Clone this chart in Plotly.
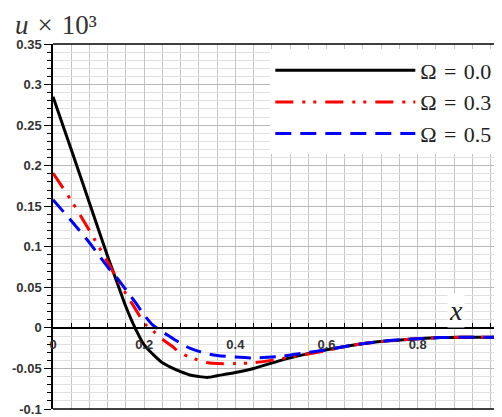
import plotly.graph_objects as go

# sampled positions along x
x_vals = [0, 0.04, 0.08, 0.12, 0.14, 0.16, 0.18, 0.20, 0.22, 0.24, 0.26, 0.28,
          0.30, 0.32, 0.34, 0.36, 0.40, 0.44, 0.50, 0.55, 0.60, 0.65, 0.70,
          0.75, 0.80, 0.85, 0.90, 0.95, 1.00]

# u x 10^3 for each Omega
u_omega_00 = [0.285, 0.220, 0.154, 0.088, 0.057, 0.026, 0.000, -0.021, -0.033,
              -0.043, -0.049, -0.054, -0.058, -0.060, -0.061, -0.059, -0.055,
              -0.050, -0.040, -0.033, -0.027, -0.022, -0.018, -0.0155, -0.0135,
              -0.012, -0.0115, -0.0115, -0.012]
u_omega_03 = [0.191, 0.157, 0.120, 0.081, 0.061, 0.042, 0.024, 0.006, -0.004,
              -0.014, -0.022, -0.031, -0.036, -0.040, -0.043, -0.044, -0.044,
              -0.043, -0.038, -0.033, -0.028, -0.022, -0.018, -0.0155, -0.0135,
              -0.012, -0.0115, -0.0115, -0.012]
u_omega_05 = [0.158, 0.132, 0.105, 0.075, 0.062, 0.047, 0.032, 0.016, 0.003,
              -0.005, -0.012, -0.019, -0.025, -0.029, -0.032, -0.034, -0.036,
              -0.037, -0.035, -0.031, -0.027, -0.022, -0.018, -0.015, -0.0135,
              -0.012, -0.0115, -0.0115, -0.012]

series_names = ["Ω\u2004=\u20040.0", "Ω\u2004=\u20040.3", "Ω\u2004=\u20040.5"]

y_ticks = [-0.1, -0.05, 0, 0.05, 0.1, 0.15, 0.2, 0.25, 0.3, 0.35]
y_tick_labels = ["-0.1", "-0.05", "0", "0.05", "0.1", "0.15", "0.2", "0.25", "0.3", "0.35"]
x_ticks = [0, 0.2, 0.4, 0.6, 0.8]
x_tick_labels = ["0", "0.2", "0.4", "0.6", "0.8"]

styles = [
    dict(color="black", width=3, dash="solid"),
    dict(color="#ff0000", width=3, dash="18px,9px,3px,8px,3px,9px"),
    dict(color="#0000ff", width=3, dash="16px,9px"),
]

fig = go.Figure()
for name, ys, st in zip(series_names, [u_omega_00, u_omega_03, u_omega_05], styles):
    fig.add_trace(go.Scatter(x=x_vals, y=ys, mode="lines", name=name,
                             line=dict(shape="spline", smoothing=0.8, **st)))

y_min, y_max = -0.1, 0.35
tick_font = dict(family="Liberation Sans", size=13, color="#333", weight="bold")

# page body adds an 8px offset, so the figure is 8px smaller and shifted
fig.update_layout(
    width=494, height=409,
    margin=dict(l=45, r=0, t=36, b=8),
    paper_bgcolor="white", plot_bgcolor="white",
    showlegend=True,
    legend=dict(x=0.484, y=0.985, xanchor="left", yanchor="top",
                bgcolor="white", borderwidth=0, itemwidth=140,
                font=dict(family="Liberation Serif", size=22, color="#222"),
                tracegroupgap=0),
    xaxis=dict(range=[0, 0.985], anchor="free", position=(0 - y_min) / (y_max - y_min),
               showline=True, linecolor="black", linewidth=1.5,
               tickvals=x_ticks, ticktext=x_tick_labels,
               ticks="inside", ticklen=4, tickcolor="black", ticklabelstandoff=5,
               tickfont=tick_font,
               showgrid=True, gridcolor="#c6c6c6", gridwidth=1, zeroline=False,
               minor=dict(dtick=0.04, tick0=0, showgrid=True, gridcolor="#c6c6c6",
                          ticks="inside", ticklen=4, tickcolor="black")),
    yaxis=dict(range=[y_min, y_max], showline=True, linecolor="black", linewidth=1.5,
               tickvals=y_ticks, ticktext=y_tick_labels,
               ticks="outside", ticklen=7, tickcolor="black",
               tickfont=tick_font,
               showgrid=True, gridcolor="#b8b8b8", zeroline=False,
               minor=dict(dtick=0.01, tick0=0, showgrid=True, gridcolor="#e0e0e0",
                          ticks="outside", ticklen=4, tickcolor="black")),
)

# frame lines top and bottom
for yy in (0, 1):
    fig.add_shape(type="line", xref="paper", yref="paper", x0=0, x1=1, y0=yy, y1=yy,
                  line=dict(color="black", width=1.5), layer="above")

fig.add_annotation(xref="paper", yref="paper", x=-0.09, y=1 + 36 / 365, xanchor="left", yanchor="top",
                   text="<i>u</i>\u2004×\u200410³", showarrow=False, height=30, valign="middle",
                   font=dict(family="Liberation Serif", size=27, color="#333"))
fig.add_annotation(x=0.884, y=0.021, text="<i>x</i>", showarrow=False, bgcolor="white",
                   font=dict(family="Liberation Serif", size=28, color="#222"))

fig.write_html("out.html")
